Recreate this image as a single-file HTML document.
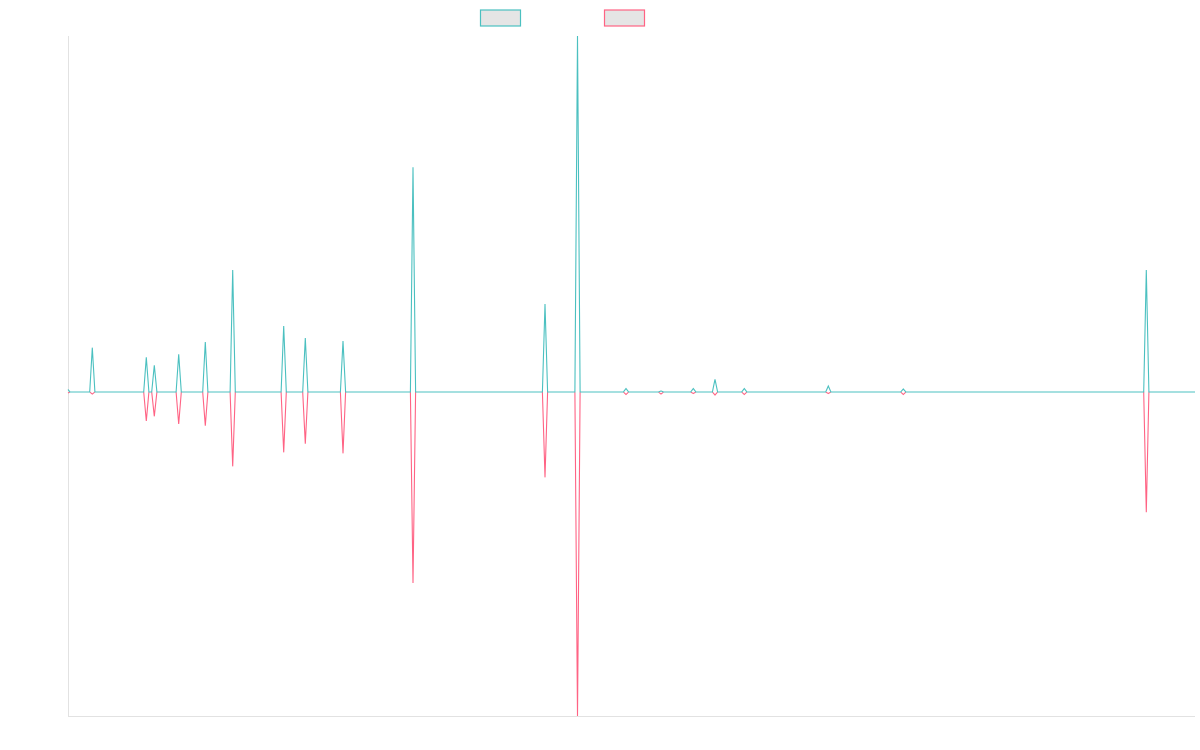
<!DOCTYPE html>
<html>
<head>
<meta charset="utf-8">
<style>
  html,body{margin:0;padding:0;background:#fff;}
  body{width:1200px;height:750px;overflow:hidden;font-family:"Liberation Sans",sans-serif;}
  svg{display:block;}
</style>
</head>
<body>
<svg width="1200" height="750" viewBox="0 0 1200 750" xmlns="http://www.w3.org/2000/svg">
  <!-- legend -->
  <rect x="480.5" y="10" width="40" height="16" fill="#e5e5e5" stroke="#4bc0c0" stroke-width="1.2"/>
  <rect x="604.5" y="10" width="40" height="16" fill="#e5e5e5" stroke="#ff6384" stroke-width="1.2"/>
  <!-- axes -->
  <line x1="68.5" y1="36" x2="68.5" y2="716.5" stroke="#e2e2e2" stroke-width="1"/>
  <line x1="68" y1="716.5" x2="1195" y2="716.5" stroke="#e2e2e2" stroke-width="1"/>
  <!-- pink series -->
  <polyline fill="none" stroke="#ff6384" stroke-width="1.1" stroke-linejoin="miter" points="
    68,393 70,392
    89.7,392 92.3,394 94.9,392
    143.7,392 146.3,421 148.9,392
    151.7,392 154.3,416.3 156.9,392
    176.1,392 178.7,424 181.3,392
    202.7,392 205.3,425.7 207.9,392
    230.1,392 232.7,466.3 235.3,392
    281.1,392 283.7,452.3 286.3,392
    302.7,392 305.3,443.7 307.9,392
    340.4,392 343,453.3 345.6,392
    410.4,392 413,583 415.6,392
    542.4,392 545,477.3 547.6,392
    574.9,392 577.5,716 580.1,392
    623.4,392 626,394.5 628.6,392
    658.4,392 661,394 663.6,392
    690.7,392 693.3,393.5 695.9,392
    712.4,392 715,395 717.6,392
    741.7,392 744.3,394.5 746.9,392
    825.7,392 828.3,393.5 830.9,392
    900.7,392 903.3,394.5 905.9,392
    1143.7,392 1146.3,512.3 1148.9,392
    1195,392"/>
  <!-- teal series -->
  <polyline fill="none" stroke="#4bc0c0" stroke-width="1.1" stroke-linejoin="miter" points="
    68,389.5 70,392
    89.7,392 92.3,347.7 94.9,392
    143.7,392 146.3,357.3 148.9,392
    151.7,392 154.3,365.3 156.9,392
    176.1,392 178.7,354.3 181.3,392
    202.7,392 205.3,342 207.9,392
    230.1,392 232.7,270 235.3,392
    281.1,392 283.7,326 286.3,392
    302.7,392 305.3,338 307.9,392
    340.4,392 343,341 345.6,392
    410.4,392 413,167.3 415.6,392
    542.4,392 545,304 547.6,392
    574.9,392 577.5,36 580.1,392
    623.4,392 626,388.5 628.6,392
    658.4,392 661,391 663.6,392
    690.7,392 693.3,388.5 695.9,392
    712.4,392 715,379.3 717.6,392
    741.7,392 744.3,388.5 746.9,392
    825.7,392 828.3,386 830.9,392
    900.7,392 903.3,389 905.9,392
    1143.7,392 1146.3,270 1148.9,392
    1195,392"/>
</svg>
</body>
</html>
